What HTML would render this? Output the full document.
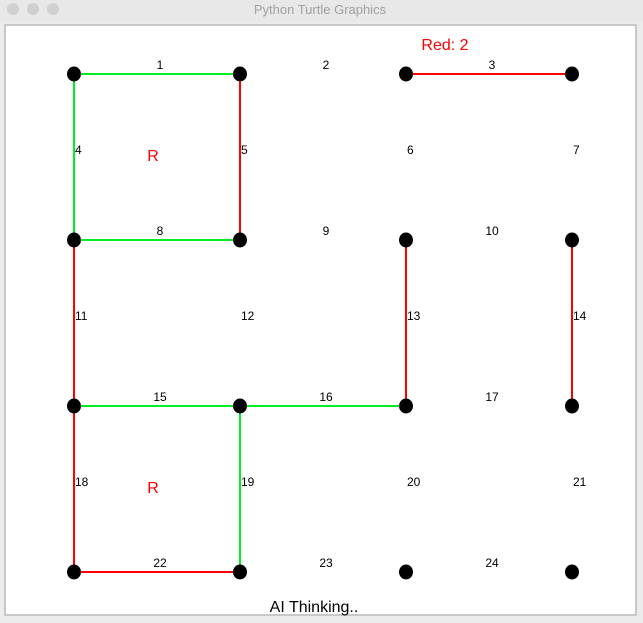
<!DOCTYPE html>
<html><head><meta charset="utf-8"><style>
html,body{margin:0;padding:0;width:643px;height:623px;overflow:hidden;background:#ececec;font-family:"Liberation Sans",sans-serif}
</style></head><body>
<svg id="g" width="643" height="623" xmlns="http://www.w3.org/2000/svg">
<rect x="0" y="0" width="643" height="623" fill="#ececec"/>
<rect x="0" y="0" width="643" height="22" fill="#e8e8e8"/>
<circle cx="13" cy="9" r="6" fill="#d0d0d0"/>
<circle cx="33" cy="9" r="6" fill="#d0d0d0"/>
<circle cx="53" cy="9" r="6" fill="#d0d0d0"/>
<text x="320" y="14" font-size="13" fill="#a0a0a0" text-anchor="middle">Python Turtle Graphics</text>
<rect x="5" y="25" width="631" height="590" fill="#fff" stroke="#c8c8c8" stroke-width="2"/>
<g id="board"></g>
<text x="445" y="50" font-size="16" fill="#ff0000" text-anchor="middle">Red: 2</text>
<text x="314" y="612" font-size="16" fill="#000" text-anchor="middle">AI Thinking..</text>
</svg>
<script>
const gridX = [74, 240, 406, 572];
const gridY = [74, 240, 406, 572];
// edge colours by edge number 1..24 ('' = not drawn)
const edgeColors = ['green','','red','green','red','','','green','','','red','','red','red','green','green','','red','green','','','red','',''];
const boxOwners = [[0,0,'R'],[0,2,'R']]; // [col,row,label]
const NS='http://www.w3.org/2000/svg';
const b=document.getElementById('board');
const col={green:'#00ee22',red:'#ff0000'};
function mk(t,a){const e=document.createElementNS(NS,t);for(const k in a)e.setAttribute(k,a[k]);b.appendChild(e);return e;}
let n=1;const edges=[];
for(let r=0;r<4;r++){
  for(let c=0;c<3;c++){edges.push({n:n,x1:gridX[c],y1:gridY[r],x2:gridX[c+1],y2:gridY[r],lx:(gridX[c]+gridX[c+1])/2+3,ly:gridY[r]-5,anchor:'middle'});n++;}
  if(r<3)for(let c=0;c<4;c++){edges.push({n:n,x1:gridX[c],y1:gridY[r],x2:gridX[c],y2:gridY[r+1],lx:gridX[c]+1,ly:(gridY[r]+gridY[r+1])/2-3,anchor:'start'});n++;}
}
edges.forEach(e=>{
  const t=mk('text',{x:e.lx,y:e.ly,'font-size':12,fill:'#000','text-anchor':e.anchor});
  t.textContent=e.n;
  
  
  const c=edgeColors[e.n-1];
  if(c){const l=mk('line',{x1:e.x1,y1:e.y1,x2:e.x2,y2:e.y2,stroke:col[c],'stroke-width':2});
    
    }
});
boxOwners.forEach(o=>{
  const t=mk('text',{x:(gridX[o[0]]+gridX[o[0]+1])/2-4,y:(gridY[o[1]]+gridY[o[1]+1])/2+4,'font-size':16,fill:'#ff0000','text-anchor':'middle'});
  t.textContent=o[2];
  
  
});
gridY.forEach((y,r)=>gridX.forEach((x,c)=>{
  const d=mk('ellipse',{cx:x,cy:y,rx:7,ry:7.5,fill:'#000'});
  
  
}));
</script>
</body></html>
